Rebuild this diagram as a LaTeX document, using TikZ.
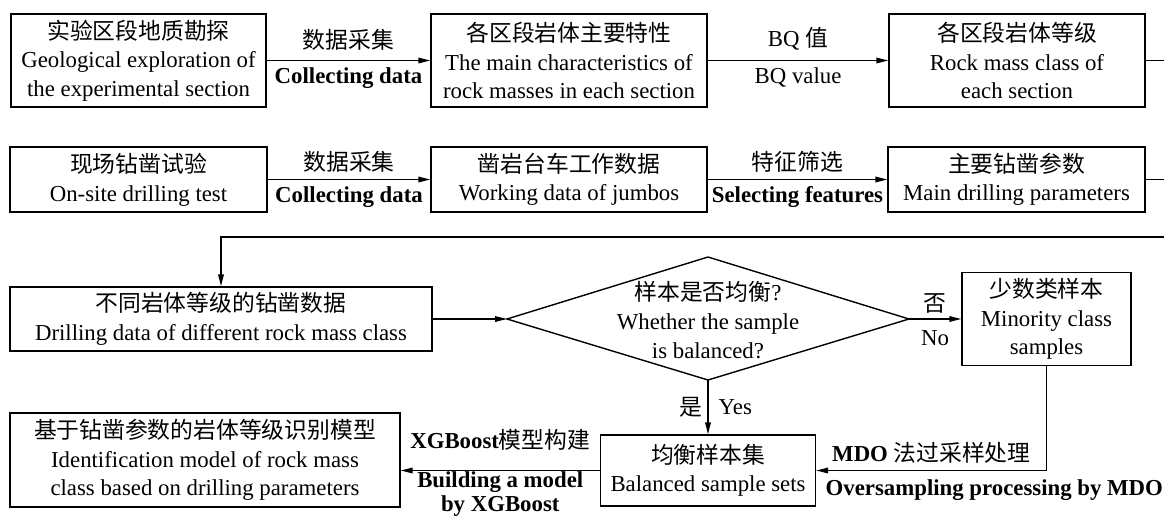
\documentclass[tikz,border=0pt]{standalone}
\usepackage{fontspec}
\setmainfont{Liberation Serif}
\newfontfamily\cjk{Noto Sans CJK SC}
\usetikzlibrary{arrows.meta}
\tikzset{>={Triangle[length=6pt,width=2.8pt]}}
\tikzset{
  box/.style={draw, line width=0.7pt, align=center, inner sep=0pt},
  flow/.style={->, line width=0.7pt},
  line/.style={line width=0.7pt}
}
\begin{document}
\begin{tikzpicture}[x=0.5pt, y=-0.5pt, font=\fontsize{11.4}{14.3}\selectfont]
\useasboundingbox (0,0) rectangle (1164,515);
\node[box, minimum width=127.5pt, minimum height=46.5pt] (geo) at (138.5,60.5) {{\cjk 实验区段地质勘探}\\Geological exploration of\\the experimental section};
\node[box, minimum width=138pt, minimum height=46.5pt] (feat) at (569,60.5) {{\cjk 各区段岩体主要特性}\\The main characteristics of\\rock masses in each section};
\node[box, minimum width=128pt, minimum height=46.5pt] (cls) at (1017,60.5) {{\cjk 各区段岩体等级}\\Rock mass class of\\each section};
\node[box, minimum width=128.5pt, minimum height=32.5pt] (test) at (138.5,179.5) {{\cjk 现场钻凿试验}\\On-site drilling test};
\node[box, minimum width=138pt, minimum height=32.5pt] (jumbo) at (569,179.5) {{\cjk 凿岩台车工作数据}\\Working data of jumbos};
\node[box, minimum width=128.5pt, minimum height=32.5pt] (param) at (1016.5,179.5) {{\cjk 主要钻凿参数}\\Main drilling parameters};
\node[box, minimum width=211pt, minimum height=32pt] (data) at (221,319) {{\cjk 不同岩体等级的钻凿数据}\\Drilling data of different rock mass class};
\node[box, minimum width=84.5pt, minimum height=46.5pt] (minor) at (1046.5,319) {{\cjk 少数类样本}\\Minority class\\samples};
\node[box, minimum width=107.5pt, minimum height=35.5pt] (bal) at (708,470.5) {{\cjk 均衡样本集}\\Balanced sample sets};
\node[box, minimum width=195pt, minimum height=47pt] (model) at (205,460) {{\cjk 基于钻凿参数的岩体等级识别模型}\\Identification model of rock mass\\class based on drilling parameters};

\coordinate (qL) at (507,319);
\coordinate (qT) at (708,257);
\coordinate (qR) at (909,319);
\coordinate (qB) at (708,380);
\draw[line] (qL) -- (qT) -- (qR) -- (qB) -- cycle;
\node[align=center] (q) at (708,320) {{\cjk 样本是否均衡}?\\Whether the sample\\is balanced?};

\coordinate (e1) at (1164,60.5);
\coordinate (e2) at (1164,179.5);
\coordinate (e3) at (1164,237);

\draw[flow] (geo) -- node[above=1.5pt]{\cjk 数据采集} node[below]{\bfseries Collecting data} (feat);
\draw[flow] (feat) -- node[above=1.5pt]{BQ {\cjk 值}} node[below]{BQ value} (cls);
\draw[line] (cls) -- (e1);
\draw[flow] (test) -- node[above=0pt]{\cjk 数据采集} node[below]{\bfseries Collecting data} (jumbo);
\draw[flow] (jumbo) -- node[above=0pt]{\cjk 特征筛选} node[below]{\bfseries Selecting features} (param);
\draw[line] (param) -- (e2);
\draw[flow] (e3) -| (data);
\draw[flow] (data) -- (qL);
\draw[flow] (qR) -- node[above, inner sep=2.3pt]{\cjk 否} node[below, inner sep=5.5pt]{No} (minor);
\draw[flow] (qB) -- node[left, inner sep=2.3pt]{\cjk 是} node[right, inner sep=5pt]{Yes} (bal);
\draw[flow] (minor) |- node[pos=0.75, above, inner sep=3.3pt]{\bfseries MDO {\cjk\mdseries 法过采样处理}} node[pos=1, below right, inner sep=4.4pt]{\bfseries Oversampling processing by MDO} (bal);
\draw[flow] (bal.west) -- node[above=6.5pt]{\bfseries XGBoost{\cjk\mdseries 模型构建}} node[below, inner sep=0pt, align=center, font=\fontsize{11.4}{12}\selectfont\bfseries]{Building a model\\by XGBoost} (bal.west -| model.east);
\end{tikzpicture}
\end{document}
